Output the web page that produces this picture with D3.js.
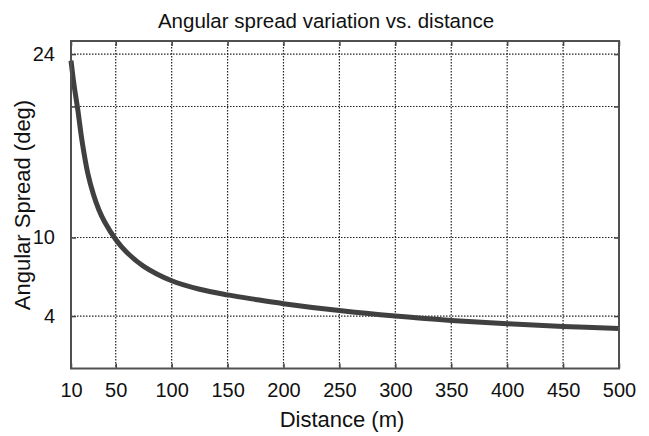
<!DOCTYPE html>
<html>
<head>
<meta charset="utf-8">
<script src="https://cdn.jsdelivr.net/npm/d3@7"></script>
<style>
  html, body { margin: 0; padding: 0; background: #fff; }
  svg { display: block; }
  text { font-family: "Liberation Sans", Arial, Helvetica, sans-serif; fill: #111; }
</style>
</head>
<body>
<svg id="chart" width="649" height="436"></svg>
<script>
// ---- data ----
const distance = [10, 12, 14, 16, 20, 25, 30, 35, 40, 50, 60, 75, 100, 125, 150, 175, 200, 250, 300, 350, 400, 450, 500];
const spread   = [23.5, 22.1, 20.9, 19.8, 17.3, 14.9, 13.3, 12.1, 11.2, 9.85, 8.85, 7.8, 6.7, 6.05, 5.62, 5.27, 4.95, 4.42, 4.0, 3.67, 3.41, 3.21, 3.05];
const xTicks = [10, 50, 100, 150, 200, 250, 300, 350, 400, 450, 500];
const yTicks = [4, 10, 20, 24];
const yTickLabels = ["4", "10", "", "24"];
const titleText = "Angular spread variation vs. distance";
const xLabelText = "Distance (m)";
const yLabelText = "Angular Spread (deg)";

const svg = d3.select("#chart");
const L = 71, R = 619, T = 41, B = 368.5;
const x = d3.scaleLinear().domain([10, 500]).range([L, R]);
const y = d3.scaleLinear().domain([0, 25]).range([B, T]);

// grid
const grid = svg.append("g");
grid.selectAll("line.gx").data(xTicks.filter(d => d > 10 && d < 500)).enter().append("line")
  .attr("x1", d => x(d)).attr("x2", d => x(d)).attr("y1", T).attr("y2", B)
  .attr("stroke", "#222").attr("stroke-width", 1.2).attr("stroke-dasharray", "1.5,1.5");
grid.selectAll("line.gy").data(yTicks).enter().append("line")
  .attr("y1", d => y(d)).attr("y2", d => y(d)).attr("x1", L).attr("x2", R)
  .attr("stroke", "#222").attr("stroke-width", 1.2).attr("stroke-dasharray", "1.5,1.5");

// curve
const line = d3.line().x((d, i) => x(distance[i])).y(d => y(d)).curve(d3.curveCatmullRom.alpha(0.5));
svg.append("path").datum(spread).attr("d", line)
  .attr("fill", "none").attr("stroke", "#404040").attr("stroke-width", 5).attr("stroke-linejoin", "round");

// axes (inward ticks, MATLAB style)
const tl = 5;
const xb = svg.append("g").attr("transform", `translate(0,${B})`)
  .call(d3.axisBottom(x).tickValues(xTicks).tickSize(-tl).tickPadding(14).tickSizeOuter(0));
const xt = svg.append("g").attr("transform", `translate(0,${T})`)
  .call(d3.axisTop(x).tickValues(xTicks).tickSize(-tl).tickFormat("").tickSizeOuter(0));
const yl = svg.append("g").attr("transform", `translate(${L},0)`)
  .call(d3.axisLeft(y).tickValues(yTicks).tickSize(-tl).tickPadding(16).tickSizeOuter(0)
    .tickFormat((d, i) => yTickLabels[i]));
const yr = svg.append("g").attr("transform", `translate(${R},0)`)
  .call(d3.axisRight(y).tickValues(yTicks).tickSize(-tl).tickFormat("").tickSizeOuter(0));
[xb, xt, yl, yr].forEach(g => {
  g.select(".domain").remove();
  g.selectAll(".tick line").attr("stroke", "#444").attr("stroke-width", 1.5);
  g.selectAll(".tick text").attr("font-size", 20).attr("fill", "#111")
    .attr("font-family", "'Liberation Sans', Arial, sans-serif");
});

// frame
svg.append("rect").attr("x", L).attr("y", T).attr("width", R - L).attr("height", B - T)
  .attr("fill", "none").attr("stroke", "#505050").attr("stroke-width", 2);

// labels
svg.append("text").attr("x", 326).attr("y", 28).attr("text-anchor", "middle")
  .attr("font-size", 20.5).text(titleText);
svg.append("text").attr("x", 342).attr("y", 427).attr("text-anchor", "middle")
  .attr("font-size", 22).text(xLabelText);
svg.append("text").attr("transform", "translate(30,205) rotate(-90)").attr("text-anchor", "middle")
  .attr("font-size", 22).text(yLabelText);
</script>
</body>
</html>
